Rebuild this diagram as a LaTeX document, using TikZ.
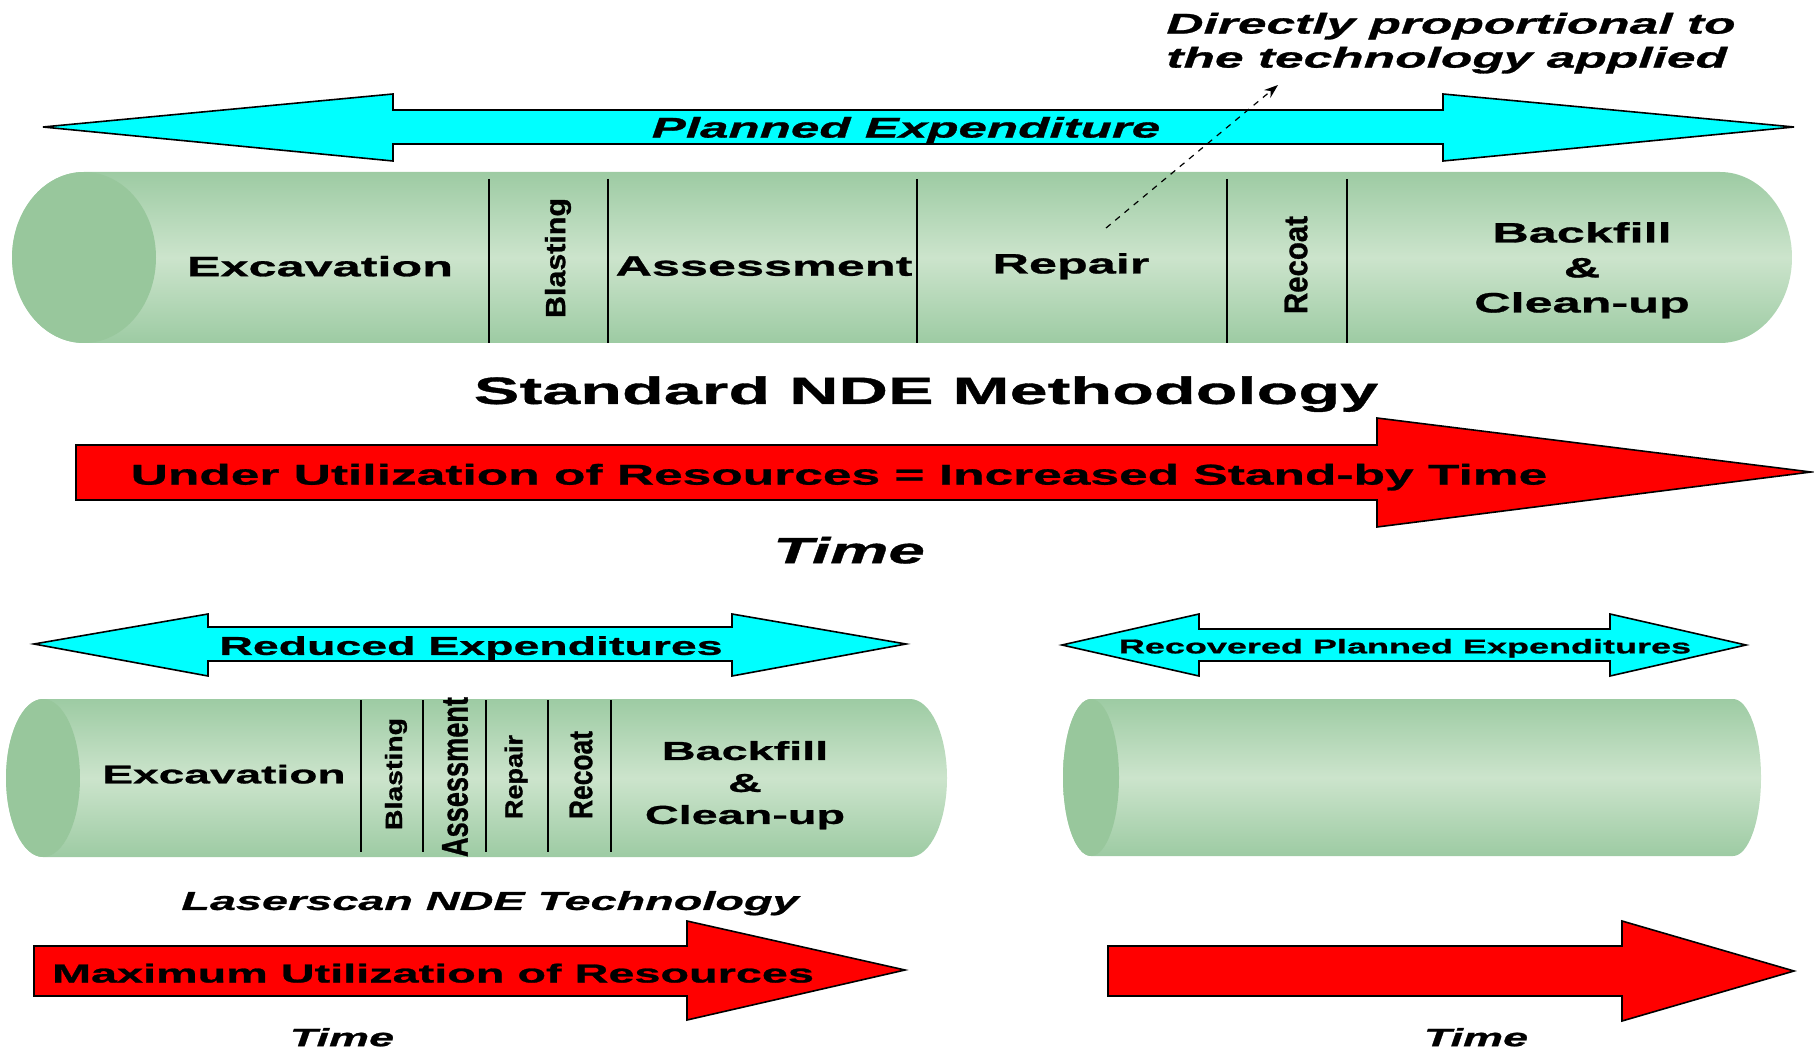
\documentclass[tikz,border=0pt]{standalone}
\usepackage{fontspec}
\usepackage{graphicx}
\usetikzlibrary{calc,arrows.meta}
\newfontfamily\wf{Liberation Sans}[FakeStretch=1.8, BoldFeatures={FakeBold=1}, BoldItalicFeatures={FakeBold=1}]
\newfontfamily\nf{Liberation Sans}[BoldFeatures={FakeBold=1}]
\definecolor{cylg}{RGB}{157,203,163}
\definecolor{cylm}{RGB}{204,228,204}
\definecolor{cylc}{RGB}{152,199,156}
\definecolor{cyanf}{RGB}{0,255,255}
\definecolor{redf}{RGB}{255,0,0}
\newcommand\fsz[2]{\fontsize{#1}{#2}\selectfont}
\newcommand\mycyl[5]{%
  \shade[top color=cylg, bottom color=cylg, middle color=cylm]
    ($(#1,#3)+(0,#5pt)$) -- ($(#2,#3)+(0,#5pt)$)
    arc[start angle=90, end angle=-90, x radius=#4pt, y radius=#5pt]
    -- ($(#1,#3)+(0,-#5pt)$)
    arc[start angle=-90, end angle=-270, x radius=#4pt, y radius=#5pt] -- cycle;
  \fill[cylc] (#1,#3) ellipse[x radius=#4pt, y radius=#5pt];
}
\tikzset{
  blockarrow/.style={draw=black, line width=0.8pt, line join=miter},
  cyanarrow/.style={blockarrow, fill=cyanf},
  redarrow/.style={blockarrow, fill=redf},
  divider/.style={draw=black, line width=0.7pt},
  lbl/.style={inner sep=0pt, align=center, yshift=-1.6pt, font=\wf\bfseries},
  ilbl/.style={inner sep=0pt, align=center, yshift=-1.6pt, font=\wf\bfseries\itshape},
  rlbl/.style={inner sep=0pt, rotate=90}
}
\begin{document}
\begin{tikzpicture}[x=0.5pt, y=-0.5pt]
\useasboundingbox (0,0) rectangle (1814,1053);

% ---------- top section ----------
\draw[cyanarrow] (43,127) -- (393,94) -- (393,110) -- (1443,110) -- (1443,94) -- (1794,127)
  -- (1443,161) -- (1443,144) -- (393,144) -- (393,161) -- cycle;
\node[ilbl] (planned) at (906,127) {\fsz{14.2}{17}Planned Expenditure};

\mycyl{84}{1720}{257.5}{36}{42.75}
\foreach \xx in {489,608,917,1227,1347} \draw[divider] (\xx,179) -- (\xx,343);

\node[lbl] (exc1) at (320,263) {\fsz{14}{17}Excavation};
\node[rlbl] (bla1) at (558,258) {\resizebox*{60pt}{13pt}{\nf\bfseries Blasting}};
\node[lbl] (ass1) at (764,263) {\fsz{14}{17}Assessment};
\node[lbl] (rep1) at (1071,263) {\fsz{14}{17}Repair};
\node[rlbl] (rec1) at (1296,265) {\resizebox*{49pt}{11.5pt}{\nf\bfseries Recoat}};
\node[lbl, font=\wf\bfseries\fsz{14}{17.5}] (bf1) at (1582,267) {Backfill\\\&\\Clean-up};

\node[ilbl, align=left, anchor=west, font=\wf\bfseries\itshape\fsz{14.3}{17}] (note) at (1166,40)
  {Directly proportional to\\the technology applied};
\coordinate (dstart) at (1106,228);
\coordinate (dend) at (1278,85);
\draw[dashed, line width=0.6pt, -{Stealth[length=7pt,width=5pt]}] (dstart) -- (dend);

\node[lbl] (std) at (926,391) {\fsz{19}{22}Standard NDE Methodology};

\draw[redarrow] (76,445) -- (1377,445) -- (1377,418) -- (1811,472) -- (1377,527) -- (1377,500) -- (76,500) -- cycle;
\node[lbl] (under) at (839,474) {\fsz{14.3}{17}Under Utilization of Resources = Increased Stand-by Time};
\node[ilbl] (time1) at (849,547) {\fsz{18.2}{21}Time};

% ---------- lower left ----------
\draw[cyanarrow] (34,644) -- (208,614) -- (208,627) -- (732,627) -- (732,614) -- (906,644)
  -- (732,676) -- (732,661) -- (208,661) -- (208,676) -- cycle;
\node[lbl] (reduced) at (471,645) {\fsz{12.9}{15}Reduced Expenditures};

\mycyl{43}{910}{778}{18.5}{39.5}
\foreach \xx in {361,423,486,548,611} \draw[divider] (\xx,700) -- (\xx,852);
\node[lbl] (exc2) at (224,771) {\fsz{12.8}{15}Excavation};
\node[rlbl] (bla2) at (396,774) {\resizebox*{56pt}{11pt}{\nf\bfseries Blasting}};
\node[rlbl] (ass2) at (455,777) {\resizebox*{80pt}{13pt}{\nf\bfseries Assessment}};
\node[rlbl] (rep2) at (516,777) {\resizebox*{42pt}{11.5pt}{\nf\bfseries Repair}};
\node[rlbl] (rec2) at (581,775) {\resizebox*{44pt}{11.5pt}{\nf\bfseries Recoat}};
\node[lbl, font=\wf\bfseries\fsz{13}{16}] (bf2) at (745,782) {Backfill\\\&\\Clean-up};

\node[ilbl] (laser) at (490,900) {\fsz{13}{15}Laserscan NDE Technology};
\draw[redarrow] (34,946) -- (687,946) -- (687,921) -- (905,970) -- (687,1020) -- (687,996) -- (34,996) -- cycle;
\node[lbl] (maxu) at (433,970) {\fsz{13}{15}Maximum Utilization of Resources};
\node[ilbl] (time2) at (342,1034) {\fsz{12.5}{15}Time};

% ---------- lower right ----------
\draw[cyanarrow] (1062,645) -- (1199,614) -- (1199,629) -- (1610,629) -- (1610,614) -- (1746,645)
  -- (1610,676) -- (1610,661) -- (1199,661) -- (1199,676) -- cycle;
\node[lbl] (recov) at (1405,645) {\fsz{10}{12}Recovered Planned Expenditures};

\mycyl{1091}{1733}{777.5}{14}{39.25}

\draw[redarrow] (1108,946) -- (1622,946) -- (1622,921) -- (1794,971) -- (1622,1021) -- (1622,996) -- (1108,996) -- cycle;
\node[ilbl] (time3) at (1476,1034) {\fsz{12.5}{15}Time};
\end{tikzpicture}
\end{document}
